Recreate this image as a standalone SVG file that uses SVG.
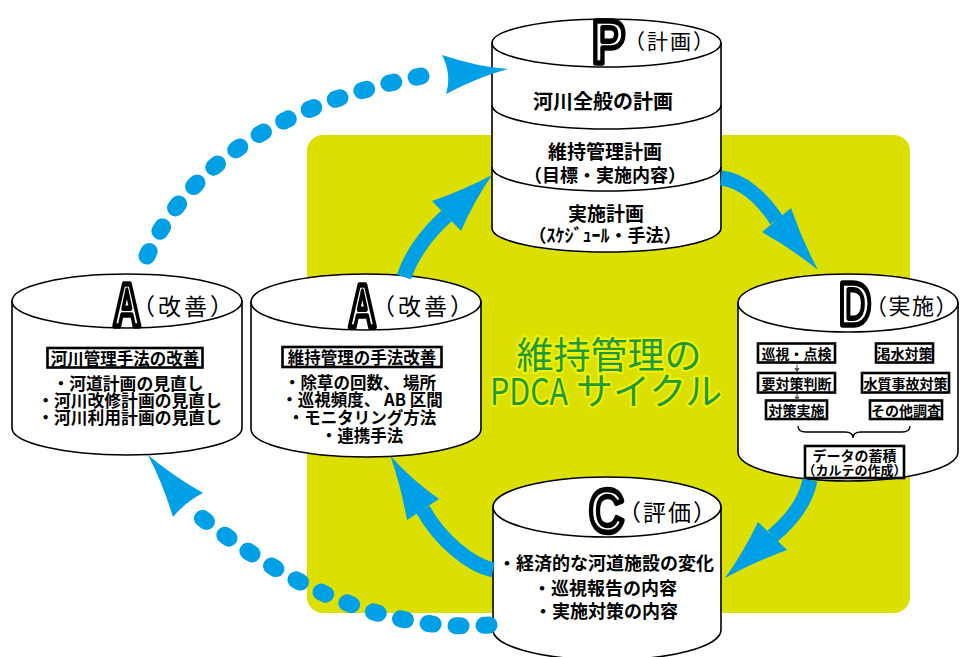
<svg xmlns="http://www.w3.org/2000/svg" width="960" height="657" viewBox="0 0 960 657">
<style>
.cyl{fill:#fff;stroke:#000;stroke-width:1.6}
.ln{fill:none;stroke:#000;stroke-width:1.6}
.t{font-family:"Noto Sans CJK JP",sans-serif;font-weight:bold;fill:#000;dominant-baseline:central;text-anchor:middle}
.lbl{font-family:"Noto Sans CJK JP",sans-serif;font-weight:normal;font-size:23px;letter-spacing:3px;dominant-baseline:central;fill:#000}
.big{font-family:"Liberation Sans",sans-serif;font-weight:bold;font-size:62px;fill:#fff;stroke:#000;stroke-width:5.5;stroke-linejoin:round;text-anchor:middle}
.box{fill:#fff;stroke:#000;stroke-width:2.6}
.arrow{fill:none;stroke:#00a0e6;stroke-width:15}
.head{fill:#00a0e6}
.dots{fill:none;stroke:#00a0e6;stroke-width:17;stroke-linecap:round;stroke-dasharray:5 23}
.title{font-family:"Noto Sans CJK JP",sans-serif;font-size:37px;fill:#1e9a3c;stroke:#f2f200;stroke-width:4;paint-order:stroke;stroke-linejoin:round;dominant-baseline:central}
</style>
<rect width="960" height="657" fill="#fff"/>
<rect id="cycle-bg" x="307" y="135" width="603" height="478" rx="16" fill="#dce000"/>
<g id="title">
<text class="title" x="609" y="353" text-anchor="middle">維持管理の</text>
<text class="title" x="490" y="389" textLength="78" lengthAdjust="spacingAndGlyphs">PDCA</text>
<text class="title" x="576" y="389">サイクル</text>
</g>

<g id="node-P">
<path class="cyl" d="M492 43 V228 A114.5 24 0 0 0 721 228 V43 Z"/>
<ellipse class="cyl" cx="606.5" cy="43" rx="114.5" ry="24"/>
<path class="ln" d="M492 105 A114.5 24 0 0 0 721 105"/>
<path class="ln" d="M492 167 A114.5 24 0 0 0 721 167"/>
<text class="big" transform="translate(608.5,63) scale(0.8,1)">P</text>
<text class="lbl" x="624" y="40" style="font-size:21px;letter-spacing:2px">（計画）</text>
<text class="t" x="603" y="100" font-size="20">河川全般の計画</text>
<text class="t" x="605" y="150" font-size="19">維持管理計画</text>
<text class="t" x="605" y="174" font-size="18">（目標・実施内容）</text>
<text class="t" x="606" y="212" font-size="19">実施計画</text>
<text class="t" x="605" y="234" font-size="18">（ｽｹｼﾞｭｰﾙ・手法）</text>
</g>

<g id="node-D">
<path class="cyl" d="M738 303 V452 A110 29 0 0 0 958 452 V303 Z"/>
<ellipse class="cyl" cx="848" cy="303" rx="110" ry="29"/>
<text class="big" transform="translate(855,325) scale(0.72,1)">D</text>
<text class="lbl" x="865" y="304" style="font-size:22px;letter-spacing:1.5px">（実施）</text>
<rect class="box" x="758" y="343.5" width="77" height="19"/>
<text class="t" x="796.5" y="353" font-size="14">巡視・点検</text>
<rect class="box" x="758" y="373" width="77" height="19.5"/>
<text class="t" x="796.5" y="382.5" font-size="14">要対策判断</text>
<rect class="box" x="766" y="400.5" width="61" height="18.5"/>
<text class="t" x="796.5" y="410" font-size="14">対策実施</text>
<rect class="box" x="876" y="343.5" width="57" height="19"/>
<text class="t" x="904.5" y="353" font-size="14">渇水対策</text>
<rect class="box" x="862" y="373" width="87" height="19.5"/>
<text class="t" x="905.5" y="382.5" font-size="14">水質事故対策</text>
<rect class="box" x="870" y="400.5" width="72" height="18.5"/>
<text class="t" x="906" y="410" font-size="14">その他調査</text>
<g fill="#555" stroke="#555" stroke-width="1">
<path d="M797 364.5 V369"/><path d="M795 368.5 H799 L797 371.5 Z"/>
<path d="M797 394 V397.5"/><path d="M795 397 H799 L797 400 Z"/>
</g>
<path class="ln" style="stroke-width:1.3" d="M798 426 Q798 432 806 432 H845 Q853 432 853 438 Q853 432 861 432 H902 Q910 432 910 426"/>
<rect class="box" x="805" y="446" width="99" height="32"/>
<text class="t" x="854.5" y="455" font-size="14" font-weight="500">データの蓄積</text>
<text class="t" x="854.5" y="469" font-size="13" font-weight="500">（カルテの作成）</text>
</g>

<g id="node-C">
<path class="cyl" d="M493 507 V630 A114 30 0 0 0 721 630 V507 Z"/>
<ellipse class="cyl" cx="607" cy="507" rx="114" ry="30"/>
<text class="big" transform="translate(606.5,532) scale(0.78,1)">C</text>
<text class="lbl" x="618" y="511" style="letter-spacing:2px">（評価）</text>
<text class="t" x="606" y="562" font-size="18">・経済的な河道施設の変化</text>
<text class="t" x="605" y="587" font-size="18">・巡視報告の内容</text>
<text class="t" x="606" y="610" font-size="18">・実施対策の内容</text>
</g>

<g id="node-A1">
<path class="cyl" d="M12 301 V428 A115 27 0 0 0 242 428 V301 Z"/>
<ellipse class="cyl" cx="127" cy="301" rx="115" ry="27"/>
<text class="big" transform="translate(127,326) scale(0.62,1)">A</text>
<text class="lbl" x="132" y="305">（改善）</text>
<rect class="box" x="47.5" y="348" width="155" height="19.5"/>
<text class="t" x="125" y="357.5" font-size="16.5">河川管理手法の改善</text>
<text class="t" x="128" y="383" font-size="16.8">・河道計画の見直し</text>
<text class="t" x="129.5" y="400" font-size="16.8">・河川改修計画の見直し</text>
<text class="t" x="129.5" y="417" font-size="16.8">・河川利用計画の見直し</text>
</g>

<g id="node-A2">
<path class="cyl" d="M251 302 V429 A115 28 0 0 0 481 429 V302 Z"/>
<ellipse class="cyl" cx="366" cy="302" rx="115" ry="28"/>
<text class="big" transform="translate(362.5,327) scale(0.62,1)">A</text>
<text class="lbl" x="372" y="305">（改善）</text>
<rect class="box" x="282.5" y="347" width="159" height="20"/>
<text class="t" x="362" y="357" font-size="16.5">維持管理の手法改善</text>
<text class="t" x="360" y="382" font-size="16.5">・除草の回数、 場所</text>
<text class="t" x="362" y="399" font-size="16.5">・巡視頻度、 AB 区間</text>
<text class="t" x="362" y="417" font-size="16.5">・モニタリング方法</text>
<text class="t" x="362" y="435" font-size="16.5">・連携手法</text>
</g>

<g id="connectors">
<path class="arrow" d="M404 277 C410 258 425 235 446.5 216"/>
<path class="head" d="M432 201 Q464 190 492 175 Q474 201 461 231 Z"/>
<path class="arrow" d="M721 178 C742 180 762 198 776.5 220"/>
<path class="head" d="M762 232 Q792 249 818 270 Q802.5 241 791 208 Z"/>
<path class="arrow" d="M810 480 C806 500 792 520 772.5 536"/>
<path class="head" d="M758 522 Q743.7 552 725 578 Q754 562 787 550 Z"/>
<path class="arrow" d="M493 570 C470 565 440 540 423 509.5"/>
<path class="head" d="M407 520 Q401 487 390.5 456 Q412 480 439 499 Z"/>
<path class="dots" d="M147 256 Q211 115 432 74"/>
<path class="head" d="M442 55 Q478 67 508 69 Q478 77 446 94 Q452 74 442 55 Z"/>
<path class="dots" d="M489 625 Q350 636 197 514"/>
<path class="head" d="M203 493 Q173 476 148 455 Q163 484 173 517 Q185.5 502 203 493 Z"/>
</g>
</svg>
